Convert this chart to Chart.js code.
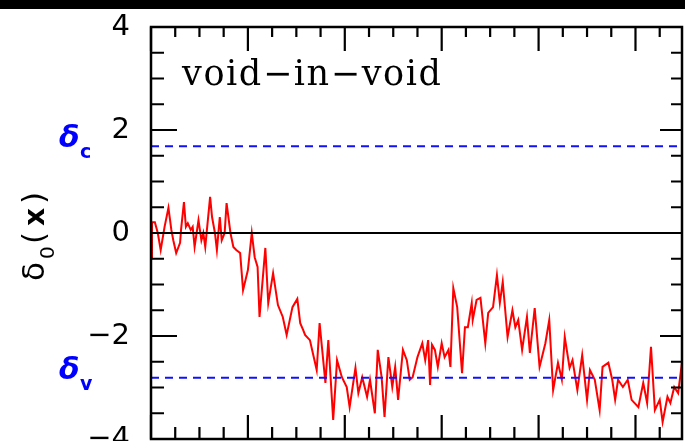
<!DOCTYPE html>
<html>
<head>
<meta charset="utf-8">
<script src="https://cdn.jsdelivr.net/npm/chart.js@4"></script>
<style>
  html, body { margin: 0; padding: 0; background: #fff; overflow: hidden; }
  canvas { display: block; }
</style>
</head>
<body>
<canvas id="c" width="685" height="441"></canvas>
<script>
// Position along the line of sight (x) and the smoothed linear density delta_0(x)
const positions = [
  0.00, 0.01, 0.04, 0.07, 0.10, 0.14, 0.18, 0.21, 0.23, 0.26,
  0.30, 0.31, 0.34, 0.36, 0.38, 0.41, 0.43, 0.45, 0.49, 0.52,
  0.54, 0.56, 0.61, 0.63, 0.66, 0.68, 0.71, 0.73, 0.76, 0.78,
  0.82, 0.85, 0.88, 0.92, 0.95, 1.00, 1.04, 1.07, 1.10,
  1.12, 1.18, 1.21, 1.26, 1.31, 1.36, 1.40, 1.46, 1.51, 1.54,
  1.57, 1.59, 1.64, 1.67, 1.71, 1.74, 1.80, 1.83, 1.88, 1.92,
  1.97, 2.02, 2.05, 2.11, 2.14, 2.18, 2.23, 2.26, 2.31, 2.34,
  2.38, 2.41, 2.45, 2.49, 2.52, 2.55, 2.60, 2.64, 2.67, 2.70,
  2.75, 2.80, 2.83, 2.86, 2.88, 2.90, 2.93, 2.96, 3.00, 3.03,
  3.07, 3.09, 3.12, 3.16, 3.21, 3.24, 3.27, 3.31, 3.32, 3.36,
  3.40, 3.45, 3.48, 3.53, 3.57, 3.60, 3.63, 3.68, 3.73, 3.76,
  3.79, 3.83, 3.88, 3.91, 3.96, 4.01, 4.07, 4.11, 4.15, 4.20,
  4.24, 4.27, 4.32, 4.35, 4.40, 4.45, 4.50, 4.53, 4.58, 4.63,
  4.66, 4.72, 4.76, 4.79, 4.82, 4.87, 4.92, 4.96, 5.03, 5.08,
  5.12, 5.16, 5.20, 5.25, 5.28, 5.33, 5.36, 5.40, 5.44, 5.47,
  5.48
];
const delta0 = [
  -0.49,  0.21,  0.21,  0.00, -0.33,  0.12,  0.49,  0.06, -0.14, -0.39,
  -0.19,  0.06,  0.60,  0.12,  0.19,  0.06,  0.12, -0.27,  0.25, -0.14,
   0.00, -0.27,  0.70,  0.31,  0.00, -0.33,  0.31, -0.14,  0.00,  0.58,
   0.00, -0.27, -0.33, -0.39, -1.11, -0.72,  0.00, -0.47, -0.66,
  -1.63, -0.29, -1.36, -0.78, -1.40, -1.63, -1.98, -1.44, -1.28, -1.75,
  -1.88, -1.98, -2.08, -2.33, -2.66, -1.75, -2.91, -2.08, -3.63, -2.47,
  -2.80, -2.99, -3.38, -2.62, -3.11, -2.80, -3.18, -2.85, -3.50, -2.27,
  -2.80, -3.57, -2.41, -2.99, -2.60, -3.24, -2.27, -2.47, -2.85, -2.80,
  -2.41, -2.14, -2.47, -2.08, -2.95, -2.17, -2.27, -2.60, -2.14, -2.41,
  -2.27, -2.60, -1.07, -1.44, -2.72, -1.83, -1.83, -1.36, -1.69, -1.30,
  -1.26, -2.14, -1.55, -1.44, -0.82, -1.36, -0.95, -2.02, -1.50, -1.83,
  -1.69, -2.27, -1.63, -2.33, -1.46, -2.60, -2.14, -1.69, -3.05, -2.52,
  -2.85, -2.02, -2.62, -2.47, -3.05, -2.37, -3.24, -2.66, -2.85, -3.44,
  -2.60, -2.52, -2.85, -3.24, -2.85, -2.99, -2.85, -3.24, -3.38, -2.91,
  -3.30, -2.21, -3.44, -3.24, -3.67, -3.18, -3.30, -2.99, -3.11, -2.66,
  -2.85
];

// Collapse and void-formation thresholds
const deltaC = 1.686;
const deltaV = -2.81;

// Axis ranges and labels
const xRange = [0, 5.48];
const yRange = [-4, 4];
const yStep = 2;
const panelLabel = 'void\u2212in\u2212void';

const FRAME = { left: 151, top: 27, right: 682, bottom: 439 };

const curve = positions.map((x, i) => ({ x, y: delta0[i] }));
const across = (v) => [{ x: xRange[0], y: v }, { x: xRange[1], y: v }];

const decorations = {
  id: 'decorations',
  beforeDraw(chart) {
    const ctx = chart.ctx;
    ctx.save();
    ctx.fillStyle = '#fff';
    ctx.fillRect(0, 0, chart.width, chart.height);
    ctx.restore();
  },
  afterDraw(chart) {
    const { ctx, chartArea: a, scales: { x, y } } = chart;
    ctx.save();

    // dark strip along the top edge
    ctx.fillStyle = '#000';
    ctx.fillRect(0, 0, chart.width, 9);

    // box frame
    ctx.strokeStyle = '#000';
    ctx.lineWidth = 2.5;
    ctx.strokeRect(a.left, a.top, a.right - a.left, a.bottom - a.top);

    // inward tick marks on all four sides
    ctx.lineWidth = 2.2;
    ctx.beginPath();
    for (let k = 0; k <= (yRange[1] - yRange[0]) / 0.5; k++) {
      const v = yRange[0] + k * 0.5;
      const py = y.getPixelForValue(v);
      const major = Math.abs(v / yStep - Math.round(v / yStep)) < 1e-6;
      ctx.moveTo(a.left, py); ctx.lineTo(a.left + (major ? 26 : 13), py);
      ctx.moveTo(a.right, py); ctx.lineTo(a.right - (major ? 22 : 11), py);
    }
    for (let k = 0; k * 0.25 <= xRange[1]; k++) {
      const v = k * 0.25;
      const px = x.getPixelForValue(v);
      const major = k % 4 === 0;
      ctx.moveTo(px, a.top); ctx.lineTo(px, a.top + (major ? 24 : 10));
      ctx.moveTo(px, a.bottom); ctx.lineTo(px, a.bottom - (major ? 24 : 12));
    }
    ctx.stroke();

    // panel label
    ctx.fillStyle = '#000';
    ctx.font = '35px "DejaVu Serif"';
    ctx.textAlign = 'left';
    ctx.textBaseline = 'alphabetic';
    const natural = ctx.measureText(panelLabel).width;
    const spacing = Math.max(0, (259 - natural) / (panelLabel.length - 1));
    ctx.letterSpacing = spacing.toFixed(2) + 'px';
    ctx.fillText(panelLabel, a.left + 31, a.top + 58);
    ctx.letterSpacing = '0px';

    // threshold labels beside the axis
    ctx.fillStyle = '#0000ff';
    [[deltaC, 'c'], [deltaV, 'v']].forEach(([v, sub]) => {
      const py = y.getPixelForValue(v);
      ctx.font = 'bold oblique 30px "DejaVu Sans"';
      ctx.fillText('\u03b4', 59, py + 1);
      ctx.font = 'bold 19px "DejaVu Sans"';
      ctx.fillText(sub, 80, py + 12);
    });

    // vertical axis title: delta_0(x)
    ctx.fillStyle = '#000';
    ctx.translate(44, 281);
    ctx.rotate(-Math.PI / 2);
    ctx.font = '31px "DejaVu Sans"';
    ctx.fillText('\u03b4', 0, 0);
    ctx.font = '20px "DejaVu Sans"';
    ctx.fillText('0', 22, 10);
    ctx.font = '31px "DejaVu Sans"';
    ctx.fillText('(', 37, 0);
    ctx.font = 'bold 28px "DejaVu Sans"';
    ctx.fillText('x', 55, 0);
    ctx.font = '31px "DejaVu Sans"';
    ctx.fillText(')', 77, 0);

    ctx.restore();
  }
};

new Chart(document.getElementById('c'), {
  type: 'line',
  data: {
    datasets: [
      {
        data: curve,
        borderColor: '#ff0000',
        borderWidth: 2,
        pointRadius: 0,
        tension: 0,
        order: 3
      },
      {
        data: across(0),
        borderColor: '#000',
        borderWidth: 2,
        pointRadius: 0,
        order: 2
      },
      {
        data: across(deltaC),
        borderColor: '#1010ff',
        borderWidth: 2,
        borderDash: [8, 6],
        pointRadius: 0,
        order: 1
      },
      {
        data: across(deltaV),
        borderColor: '#1010ff',
        borderWidth: 2,
        borderDash: [8, 6],
        pointRadius: 0,
        order: 1
      }
    ]
  },
  options: {
    responsive: false,
    animation: false,
    events: [],
    layout: {
      padding: { left: 0, top: FRAME.top, right: 685 - FRAME.right, bottom: 441 - FRAME.bottom }
    },
    plugins: { legend: { display: false }, tooltip: { enabled: false } },
    scales: {
      x: {
        type: 'linear',
        min: xRange[0],
        max: xRange[1],
        display: false
      },
      y: {
        type: 'linear',
        min: yRange[0],
        max: yRange[1],
        grid: { display: false, drawTicks: false },
        border: { display: false },
        ticks: {
          stepSize: yStep,
          padding: 21,
          color: '#000',
          font: { family: '"DejaVu Sans"', size: 29 },
          callback: (v) => (v < 0 ? '\u2212' + Math.abs(v) : String(v))
        },
        afterFit(scale) {
          scale.width = FRAME.left;
          scale.paddingTop = 0;
          scale.paddingBottom = 0;
        }
      }
    }
  },
  plugins: [decorations]
});
</script>
</body>
</html>
